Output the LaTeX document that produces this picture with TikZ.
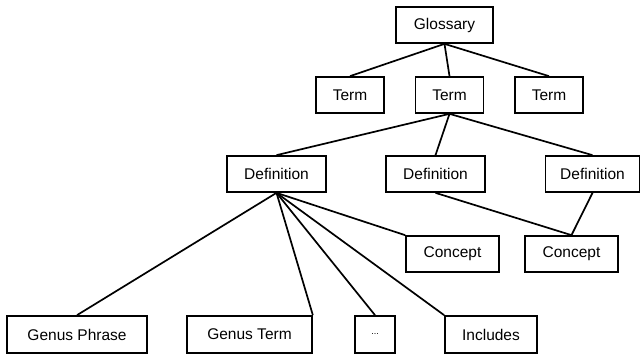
\documentclass[tikz,border=0pt]{standalone}
\usepackage{fontspec}
\setmainfont{Liberation Sans}
\usetikzlibrary{positioning}

\begin{document}
\begin{tikzpicture}[x={(1pt,0pt)}, y={(0pt,-1pt)},
  box/.style={draw, line width=1.7pt, minimum height=36pt, inner sep=0pt, font=\fontsize{15.5}{18}\selectfont},
  link/.style={line width=1.7pt}]
  \useasboundingbox (0,0) rectangle (641,354);

  % glossary and terms
  \node[box, minimum width=97pt] (glossary) at (444.5,25) {Glossary};
  \node[box, minimum width=68pt] (term1) at (350,95) {Term};
  \node[box, minimum width=68pt] (term2) at (449.5,95) {Term};
  \node[box, minimum width=68pt] (term3) at (549,95) {Term};

  \draw[link] (glossary.south) -- (term1.north);
  \draw[link] (glossary.south) -- (term2.north);
  \draw[link] (glossary.south) -- (term3.north);

  % definitions
  \node[box, minimum width=99pt] (def1) at (276.5,174) {Definition};
  \node[box, minimum width=99pt] (def2) at (435.5,174) {Definition};
  \node[box, minimum width=94pt] (def3) at (592.5,174) {Definition};

  \draw[link] (term2.south) -- (def1.north);
  \draw[link] (term2.south) -- (def2.north);
  \draw[link] (term2.south) -- (def3.north);

  % concepts
  \node[box, minimum width=93pt] (concept1) at (452.5,254) {Concept};
  \node[box, minimum width=93pt] (concept2) at (571.5,254) {Concept};

  \draw[link] (def2.south) -- (concept2.north);
  \draw[link] (def3.south) -- (concept2.north);

  % parts of a definition
  \node[box, minimum width=140pt, minimum height=37pt] (genphrase) at (77,334.5) {Genus Phrase};
  \node[box, minimum width=125pt, minimum height=37pt] (genterm) at (249.5,334.5) {Genus Term};
  \node[box, minimum width=40pt, minimum height=37pt] (dots) at (375,334.5) {\fontsize{9}{11}\selectfont...};
  \node[box, minimum width=92pt, minimum height=37pt] (includes) at (491,334.5) {Includes};

  \draw[link] (def1.south) -- (genphrase.north);
  \draw[link] (def1.south) -- (genterm.north east);
  \draw[link] (def1.south) -- (dots.north);
  \draw[link] (def1.south) -- (includes.north west);
  \draw[link] (def1.south) -- (concept1.north west);
\end{tikzpicture}
\end{document}
